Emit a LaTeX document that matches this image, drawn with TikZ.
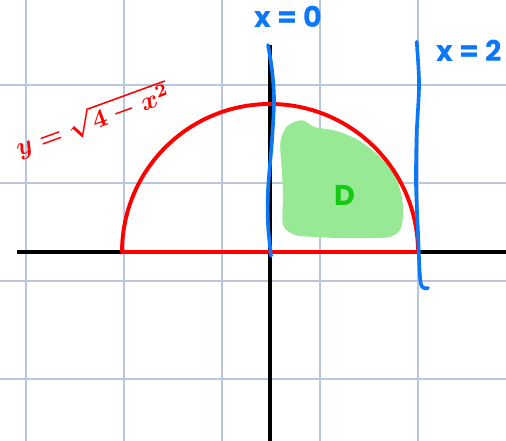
\documentclass[tikz,border=0pt]{standalone}
\usepackage{fontspec}
\newfontfamily\handfont{Poppins}
\definecolor{gridblue}{RGB}{184,198,222}
\definecolor{curvered}{RGB}{255,0,0}
\definecolor{boundblue}{RGB}{10,120,250}
\definecolor{regiongreen}{RGB}{152,233,150}
\definecolor{labelgreen}{RGB}{20,200,20}

\begin{document}
\begin{tikzpicture}[
    gridline/.style={gridblue, line width=0.45pt},
    axisline/.style={black, line width=1.3pt},
    curveline/.style={curvered, line width=1.5pt, line join=round},
    boundline/.style={boundblue, line width=1.4pt, line cap=round},
    hand/.style={font=\handfont\bfseries\fontsize{11}{13}\selectfont}
]
    \useasboundingbox (-3.649,-2.554) rectangle (3.189,3.405);

    % Grid
    \foreach \gx in {-3.297,-1.973,-0.649,0.676,2.0}
        \draw[gridline] (\gx,-2.554) -- (\gx,3.405);
    \foreach \gy in {2.257,0.932,-0.392,-1.716}
        \draw[gridline] (-3.649,\gy) -- (3.189,\gy);

    % Region D
    \fill[regiongreen] plot[smooth cycle] coordinates {
        (0.230,1.700) (0.432,1.780) (0.600,1.690) (0.878,1.640)
        (1.189,1.514) (1.486,1.284) (1.703,1.000) (1.797,0.635)
        (1.770,0.324) (1.622,0.203) (1.351,0.189) (0.946,0.189)
        (0.608,0.203) (0.338,0.230) (0.176,0.365) (0.176,0.770)
        (0.160,1.108) (0.140,1.480)};

    % Axes
    \draw[axisline] (-3.42,0) -- (3.189,0);
    \draw[axisline] (0,-2.554) -- (0,2.797);

    % Upper half of the circle
    \draw[curveline] (2,0) arc (0:180:2) -- cycle;

    % Bounds x = 0 and x = 2
    \draw[boundline] plot[smooth] coordinates {
        (-0.027,2.797) (0.027,2.459) (0.054,2.054) (0.027,1.514)
        (-0.027,0.838) (-0.027,0.365) (0.014,-0.054)};
    \draw[boundline] plot[smooth] coordinates {
        (1.982,2.841) (2.014,2.270) (1.982,1.595) (1.973,0.919)
        (2.0,0.257) (2.036,-0.419) (2.135,-0.486)};

    % Labels
    \node[boundblue, hand] (lblzero) at (0.243,3.176) {x = 0};
    \node[boundblue, hand] (lbltwo) at (2.689,2.716) {x = 2};
    \node[labelgreen, hand] (lblD) at (1.014,0.770) {D};
    \node[curvered, rotate=20, font=\normalsize\boldmath] (lblcurve) at (-2.40,1.78) {$y=\sqrt{4-x^2}$};
\end{tikzpicture}
\end{document}
